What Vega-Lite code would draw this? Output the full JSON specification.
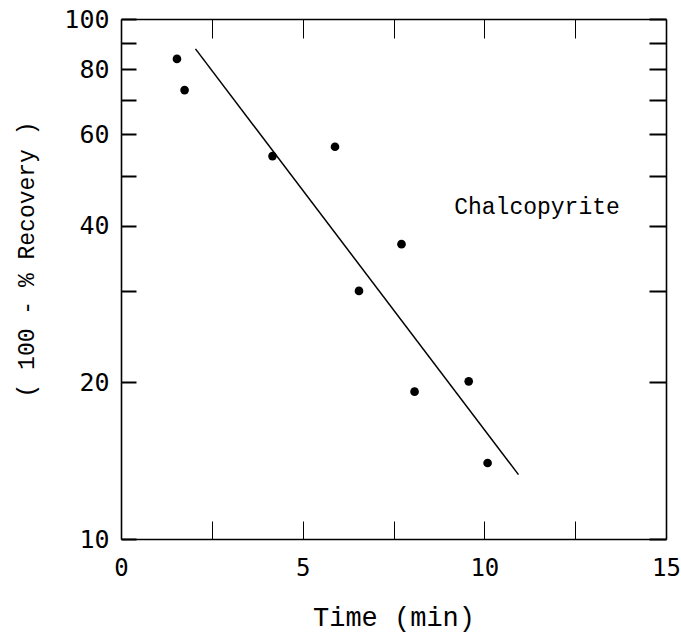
{
  "$schema": "https://vega.github.io/schema/vega-lite/v6.json",
  "width": 545,
  "height": 520,
  "autosize": {"type": "none"},
  "padding": {"left": 121, "top": 19, "right": 15, "bottom": 95},
  "background": "white",
  "config": {
    "view": {"stroke": null},
    "axis": {
      "domainColor": "black",
      "domainWidth": 1.6,
      "tickColor": "black",
      "labelColor": "black",
      "titleColor": "black",
      "grid": false,
      "labelFont": "DejaVu Sans Mono",
      "titleFont": "Liberation Mono",
      "titleFontWeight": "normal",
      "labelFlush": false,
      "labelOverlap": false,
      "labelBound": false
    }
  },
  "datasets": {
    "points": [
      {"time": 1.54, "value": 83.8},
      {"time": 1.75, "value": 73.0},
      {"time": 4.17, "value": 54.5},
      {"time": 5.89, "value": 56.8},
      {"time": 6.55, "value": 30.0},
      {"time": 7.72, "value": 36.9},
      {"time": 8.08, "value": 19.2},
      {"time": 9.57, "value": 20.1},
      {"time": 10.09, "value": 14.0}
    ],
    "fit": [
      {"time": 2.05, "value": 87.6},
      {"time": 10.94, "value": 13.3}
    ],
    "labels": [
      {"time": 11.45, "value": 43.5, "label": "Chalcopyrite"}
    ]
  },
  "layer": [
    {
      "data": {"name": "points"},
      "mark": {"type": "point", "filled": true, "color": "black", "opacity": 1, "size": 75, "shape": "circle"},
      "encoding": {
        "x": {
          "field": "time", "type": "quantitative",
          "scale": {"domain": [0, 15], "nice": false, "zero": false},
          "axis": {
            "orient": "bottom",
            "title": "Time (min)",
            "titleFontSize": 27,
            "titleY": 78,
            "titleBaseline": "middle",
            "values": [0, 2.5, 5, 7.5, 10, 12.5, 15],
            "labelExpr": "datum.value % 5 == 0 ? datum.label : ''",
            "labelFontSize": 24,
            "tickSize": -18,
            "tickWidth": 1,
            "labelPadding": 35
          }
        },
        "y": {
          "field": "value", "type": "quantitative",
          "scale": {"type": "log", "domain": [10, 100], "nice": false},
          "axis": {
            "orient": "left",
            "title": "( 100 - % Recovery )",
            "titleFontSize": 23,
            "titleX": -95,
            "titleY": 240,
            "titleBaseline": "middle",
            "titleAlign": "center",
            "titleAngle": -90,
            "values": [10, 20, 30, 40, 50, 60, 70, 80, 90, 100],
            "labelExpr": "(datum.value == 10 || datum.value == 20 || datum.value == 40 || datum.value == 60 || datum.value == 80 || datum.value == 100) ? datum.label : ''",
            "format": "d",
            "labelFontSize": 25,
            "tickSize": -15,
            "tickWidth": 2,
            "labelPadding": 27
          }
        }
      }
    },
    {
      "data": {"name": "fit"},
      "mark": {"type": "line", "color": "black", "strokeWidth": 1.5},
      "encoding": {
        "x": {
          "field": "time", "type": "quantitative",
          "axis": {
            "orient": "top",
            "title": null,
            "labels": false,
            "values": [0, 2.5, 5, 7.5, 10, 12.5, 15],
            "tickSize": -19,
            "tickWidth": 1
          }
        },
        "y": {
          "field": "value", "type": "quantitative",
          "axis": {
            "orient": "right",
            "title": null,
            "labels": false,
            "values": [10, 20, 30, 40, 50, 60, 70, 80, 90, 100],
            "tickSize": -17,
            "tickWidth": 2
          }
        }
      }
    },
    {
      "data": {"name": "labels"},
      "mark": {"type": "text", "font": "Liberation Mono", "fontSize": 23, "color": "black", "align": "center", "baseline": "middle"},
      "encoding": {
        "x": {"field": "time", "type": "quantitative", "axis": null},
        "y": {"field": "value", "type": "quantitative", "axis": null},
        "text": {"field": "label"}
      }
    }
  ],
  "resolve": {"axis": {"x": "independent", "y": "independent"}}
}
